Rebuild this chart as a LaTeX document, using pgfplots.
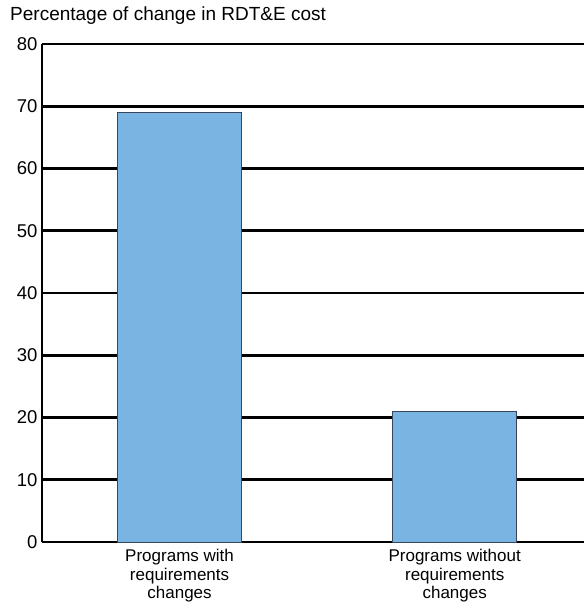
\documentclass[border=0pt]{standalone}
\usepackage{fontspec}
\setmainfont{Liberation Sans}
\usepackage{pgfplots}
\pgfplotsset{compat=1.18}
\definecolor{barblue}{RGB}{122,180,226}
\definecolor{baredge}{RGB}{55,70,90}
\begin{document}
\begin{tikzpicture}
\begin{axis}[
  at={(0,0)}, anchor=south west,
  scale only axis,
  width=542bp, height=498bp,
  xmin=-0.5, xmax=1.47,
  ymin=0, ymax=80,
  clip=false,
  ytick={0,10,...,80},
  xtick={0,1},
  xticklabels={{Programs with\\requirements\\changes},{Programs without\\requirements\\changes}},
  xticklabel style={align=center, font=\fontsize{17bp}{18.3bp}\selectfont, yshift=-4bp},
  yticklabel style={font=\fontsize{18.5bp}{20bp}\selectfont, xshift=-1bp},
  /pgf/number format/assume math mode=true,
  axis x line=bottom, axis y line=left,
  axis line style={-, line width=2.8bp, black},
  major tick length=0pt,
  ymajorgrids,
  grid style={line width=2.8bp, black},
  ybar, bar width=124bp,
]
\addplot[ybar, fill=barblue, draw=baredge, line width=1bp] coordinates {(0,69) (1,21)};
% left and top frame lines, drawn over the grid so they keep their full width
\draw[line width=2.8bp, black] (axis cs:-0.5,0) -- (axis cs:-0.5,80);
\draw[line width=2.8bp, black] (axis cs:-0.5,80) -- (axis cs:1.47,80);
\end{axis}
\node[anchor=base west, inner sep=0pt, font=\fontsize{19bp}{21bp}\selectfont]
  at (-32bp,521bp) {Percentage of change in RDT\&E cost};
\pgfresetboundingbox
\path (-42bp,-61bp) rectangle (542bp,542bp);
\end{tikzpicture}
\end{document}
